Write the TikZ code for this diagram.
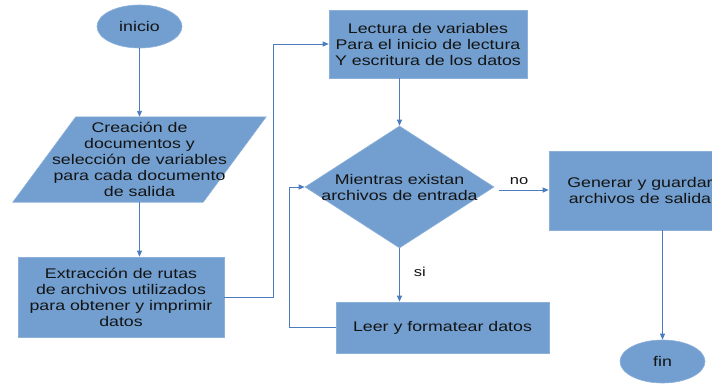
\documentclass[tikz,border=0pt]{standalone}
\usepackage{fontspec}
\setmainfont{Liberation Sans}[FakeStretch=1.27]
\usetikzlibrary{shapes.geometric,arrows.meta,backgrounds}
\definecolor{boxfill}{HTML}{729FCF}
\definecolor{boxline}{HTML}{8CB0DA}
\definecolor{conn}{HTML}{4C7CBF}
\definecolor{txt}{HTML}{141414}
\tikzset{
  base/.style={fill=boxfill, draw=boxline, line width=0.6pt, text=txt, inner sep=0pt, align=center, font=\fontsize{14}{16}\selectfont},
  procbox/.style={base, rectangle},
  termbox/.style={base, ellipse, minimum width=85pt, minimum height=43pt},
  decbox/.style={base, diamond, minimum width=189pt, minimum height=122pt},
  ghost/.style={rectangle, inner sep=0pt, align=center, text=txt, font=\fontsize{14}{16}\selectfont},
  conline/.style={draw=conn, line width=0.9pt},
  arr/.style={conline, -{Triangle[length=6pt,width=5pt]}},
  lbl/.style={text=txt, font=\fontsize{13}{15}\selectfont, inner sep=0pt}
}
\begin{document}
\begin{tikzpicture}[x=1pt,y=-1pt]
\useasboundingbox (0,0) rectangle (712,383);
\clip (0,0) rectangle (712,383);

\node[termbox] (ini) at (139.5,26.5) {inicio};
\node[ghost, minimum width=190pt, minimum height=85pt] (crea) at (139.5,159.5)
  {Creación de\\documentos y\\selección de variables\\para cada documento\\de salida};
\begin{pgfonlayer}{background}
\draw[fill=boxfill, draw=boxline, line width=0.6pt]
  ([xshift=31.5pt]crea.north west) -- ([xshift=31.5pt]crea.north east) --
  ([xshift=-31.5pt]crea.south east) -- ([xshift=-31.5pt]crea.south west) -- cycle;
\end{pgfonlayer}
\node[procbox, minimum width=206pt, minimum height=80pt] (extr) at (121,297)
  {Extracción de rutas\\de archivos utilizados\\para obtener y imprimir\\datos};
\node[procbox, minimum width=198pt, minimum height=68pt] (lect) at (428,44)
  {Lectura de variables\\Para el inicio de lectura\\Y escritura de los datos};
\node[decbox, label={[ghost]center:{Mientras existan\\archivos de entrada}}] (dia) at (399.5,187) {};
\node[procbox, minimum width=213pt, minimum height=51pt] (leer) at (442.5,327.5)
  {Leer y formatear datos};
\node[procbox, minimum width=182pt, minimum height=79pt] (gen) at (640,190.5)
  {Generar y guardar\\archivos de salida};
\node[termbox] (fin) at (662.5,361.5) {fin};

\draw[arr] (ini.south) -- (crea.north);
\draw[arr] (crea.south) -- (crea.south |- extr.north);
\draw[arr] (extr.east) -- ++(49,0) |- (lect.west);
\draw[arr] (lect.south -| dia.north) -- (dia.north);
\draw[arr] (dia.south) -- node[lbl, right=14pt, pos=0.45] {si} (dia.south |- leer.north);
\draw[arr] (leer.west) -- ++(-46,0) |- (dia.west);
\draw[arr] ([xshift=5pt,yshift=-3pt]dia.east) -- node[lbl, above=5pt, pos=0.4] {no} ([yshift=-3pt]dia.east -| gen.west);
\draw[arr] (fin.north |- gen.south) -- (fin.north);
\end{tikzpicture}
\end{document}
